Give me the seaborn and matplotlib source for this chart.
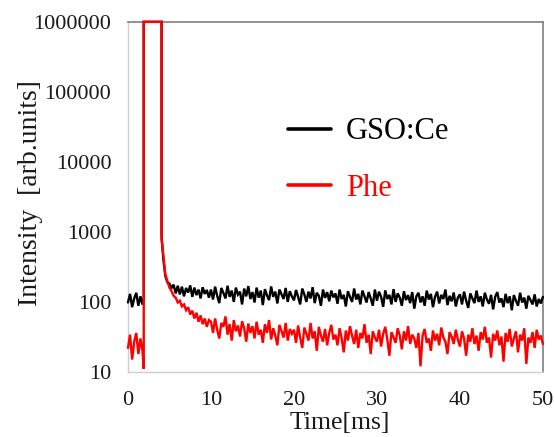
import numpy as np
import pandas as pd
import matplotlib
matplotlib.use("Agg")
import matplotlib.pyplot as plt
import seaborn as sns

# ---- data ----
# time axis: pre-pulse samples, the saturated excitation pulse edges, then the decay
time_ms = np.concatenate([
    np.arange(0, 2.0, 0.25),          # 0 .. 1.75 ms
    [1.9, 1.9, 4.05, 4.05],           # pulse rise / saturation / fall
    np.arange(4.25, 50.01, 0.25),     # 4.25 .. 50 ms
])

gso_ce = [
    98, 130, 84, 112, 135, 88, 120, 92,
    105, 1e6, 1e6, 850,
    420, 235, 190, 182, 158, 176, 132, 170, 128, 165, 120, 158, 136, 172, 118, 160, 125, 150, 112, 162, 130, 148, 115,
    150, 108, 165, 122, 96, 158, 134, 112, 170, 118, 145, 100, 160, 127, 140, 92, 155, 120, 168, 110,
    138, 98, 160, 115, 145, 90, 152, 124, 106, 166, 118, 140, 95, 150, 128, 110, 158, 100, 142, 120,
    105, 148, 118, 92, 155, 128, 100, 140, 112, 162, 96, 135, 122, 88, 150, 114, 138, 102, 145, 116,
    132, 94, 150, 110, 126, 86, 142, 118, 100, 155, 108, 130, 92, 145, 120, 98, 138, 112, 88, 150,
    104, 140, 118, 85, 146, 110, 126, 92, 152, 100, 132, 115, 88, 142, 106, 125, 96, 138, 80, 120,
    135, 98, 120, 88, 145, 108, 130, 84, 118, 140, 95, 126, 110, 150, 90, 122, 102, 136, 86, 115,
    128, 92, 140, 104, 82, 132, 112, 96, 145, 100, 120, 86, 135, 108, 94, 126, 78, 118, 138, 98,
    112, 84, 130, 96, 120, 76, 125, 104, 88, 135, 98, 115, 80, 122, 106, 92, 128, 86, 110, 95, 118,
]

phe = [
    22, 34, 15, 27, 36, 18, 30, 20,
    11, 1e6, 1e6, 800,
    480, 250, 195, 160, 142, 122, 115, 98, 104, 86, 92, 76, 84, 66, 75, 58, 70, 52, 64, 48, 58, 44, 55,
    52, 36, 58, 40, 30, 50, 44, 62, 34, 48, 28, 55, 38, 46, 32, 53, 42, 27, 49, 36,
    45, 30, 52, 34, 40, 26, 48, 36, 55, 29, 42, 33, 24, 47, 38, 31, 50, 28, 41, 35,
    40, 26, 46, 31, 22, 43, 35, 28, 50, 30, 38, 20, 44, 33, 27, 41, 24, 36, 47, 29,
    34, 24, 42, 30, 19, 39, 28, 45, 33, 25, 40, 22, 36, 30, 48, 26, 34, 18, 38, 31,
    27, 40, 23, 35, 44, 29, 17, 37, 31, 26, 42, 33, 21, 38, 28, 45, 25, 34, 30, 22,
    36, 12, 33, 41, 26, 30, 20, 39, 28, 35, 24, 43, 31, 27, 18, 37, 32, 25, 40, 29,
    23, 38, 30, 17, 34, 27, 42, 25, 33, 20, 37, 29, 44, 26, 31, 16, 35, 28, 39, 24,
    32, 14, 36, 27, 41, 23, 30, 38, 19, 34, 28, 42, 13, 31, 26, 37, 22, 40, 29, 33, 25,
]

series_names = ["GSO:Ce", "Phe"]
series_colors = ["#000000", "#ff0000"]
x_ticks = [0, 10, 20, 30, 40, 50]
y_ticks = [10, 100, 1000, 10000, 100000, 1000000]
y_tick_labels = ["10", "100", "1000", "10000", "100000", "1000000"]

df = pd.concat([
    pd.DataFrame({"Time": time_ms, "Intensity": gso_ce, "Sample": series_names[0]}),
    pd.DataFrame({"Time": time_ms, "Intensity": phe, "Sample": series_names[1]}),
], ignore_index=True)

# ---- plot ----
sns.set_theme(style="white")
plt.rcParams["font.family"] = ["Liberation Serif", "DejaVu Serif"]

fig = plt.figure(figsize=(5.54, 4.37), dpi=100)
ax = fig.add_axes([0.231, 0.149, 0.749, 0.801])

sns.lineplot(data=df, x="Time", y="Intensity", hue="Sample",
             palette=dict(zip(series_names, series_colors)),
             estimator=None, sort=False, linewidth=1.7, ax=ax)
for ln in ax.get_lines():
    ln.set_clip_on(False)
    ln.set_zorder(3)
    ln.set_solid_joinstyle("miter")

ax.set_yscale("log")
ax.set_xlim(0, 50)
ax.set_ylim(10, 1e6)
ax.set_xticks(x_ticks)
ax.set_xticklabels([str(t) for t in x_ticks])
ax.set_yticks(y_ticks)
ax.set_yticklabels(y_tick_labels)
ax.yaxis.set_minor_locator(matplotlib.ticker.NullLocator())

ax.tick_params(axis="both", which="major", direction="in", length=3,
               width=0.8, color="#d0d0d0", labelsize=16, labelcolor="#1a1a1a")
ax.tick_params(axis="y", pad=12)
ax.tick_params(axis="x", pad=14)

for side in ["left", "bottom"]:
    ax.spines[side].set_color("#cfcfcf")
    ax.spines[side].set_linewidth(1.0)
for side in ["top", "right"]:
    ax.spines[side].set_color("#7f7f7f")
    ax.spines[side].set_linewidth(1.2)

ax.set_xlabel("Time[ms]", fontsize=18.5, color="#1a1a1a")
ax.set_ylabel("Intensity  [arb.units]", fontsize=20, color="#1a1a1a")
ax.xaxis.set_label_coords(0.51, -0.114)
ax.yaxis.set_label_coords(-0.205, 0.511)

leg = ax.legend(loc="center left", bbox_to_anchor=(0.385, 0.605), frameon=False,
                fontsize=22, labelcolor="linecolor", handlelength=1.4,
                handletextpad=0.5, labelspacing=0.9, borderpad=0, borderaxespad=0)
for ln in leg.get_lines():
    ln.set_linewidth(2.6)

fig.savefig("out.png", dpi=100)
